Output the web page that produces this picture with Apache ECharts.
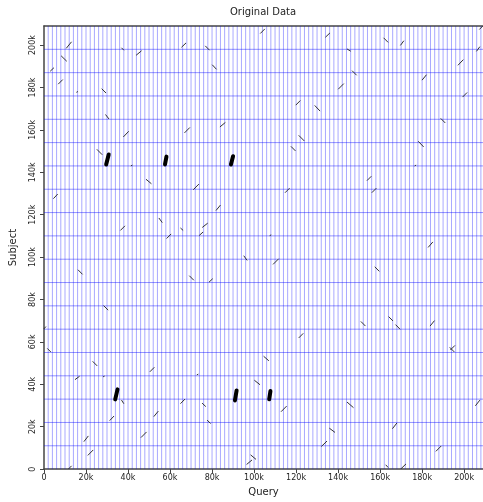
<!DOCTYPE html>
<html>
<head>
<meta charset="utf-8">
<script src="https://cdn.jsdelivr.net/npm/echarts@6/dist/echarts.min.js"></script>
<style>
  html, body { margin: 0; padding: 0; background: #ffffff; }
  #chart { width: 483px; height: 502px; }
</style>
</head>
<body>
<div id="chart"></div>
<script>
// Dot plot of query vs subject alignments (coordinates in kb).
const queryLength = 209;
const subjectLength = 209;
const axisLabelStep = 20;

// Block boundaries along each sequence (kb)
const queryBoundaries = [
  2, 4, 6, 8, 10, 12, 14, 16, 18, 20, 22, 24, 26, 28, 30, 32, 34, 36, 38, 40,
  42, 44, 46, 48, 50, 52, 54, 56, 58, 60, 62, 64, 66, 68, 70, 72, 74, 76, 78, 80,
  82, 84, 86, 88, 90, 92, 94, 96, 98, 100, 102, 104, 106, 108, 110, 112, 114, 116, 118, 120,
  122, 124, 126, 128, 130, 132, 134, 136, 138, 140, 142, 144, 146, 148, 150, 152, 154, 156, 158, 160,
  162, 164, 166, 168, 170, 172, 174, 176, 178, 180, 182, 184, 186, 188, 190, 192, 194, 196, 198, 200,
  202, 204, 206, 208
];
const subjectBoundaries = [
  11, 22, 33, 44, 55, 66, 77, 88, 99, 110, 121, 132, 143, 154, 165, 176, 187, 198
];

// Alignments: [queryStart, queryEnd, subjectStart, subjectEnd]
const forwardHits = [
  [10.7, 13.0, 198.6, 201.4], [103.1, 105.0, 205.6, 207.5], [134.1, 136.0, 203.8, 205.6],
  [207.4, 208.8, 207.5, 208.9], [44.0, 46.3, 195.3, 197.2], [65.6, 67.5, 199.1, 200.9],
  [169.8, 171.2, 200.0, 201.9], [206.0, 207.4, 197.2, 199.1], [3.1, 4.6, 187.8, 189.2],
  [6.9, 8.8, 181.7, 183.6], [197.2, 199.5, 190.6, 193.0], [180.1, 182.0, 183.6, 185.9],
  [140.2, 142.6, 179.3, 181.7], [199.4, 201.3, 175.6, 177.5], [37.9, 40.2, 156.8, 159.2],
  [67.0, 69.3, 158.7, 161.0], [83.9, 86.2, 161.5, 163.4], [71.2, 73.6, 131.9, 134.3],
  [114.9, 116.8, 130.5, 132.4], [82.0, 83.9, 122.1, 124.4], [75.5, 77.8, 114.1, 115.9],
  [74.0, 75.6, 110.3, 111.7], [65.1, 67.0, 31.0, 32.9], [113.0, 115.4, 27.2, 29.6],
  [52.4, 54.3, 24.9, 27.2], [96.6, 98.9, 2.3, 4.2], [14.9, 16.8, 42.3, 43.7],
  [31.4, 33.2, 23.0, 24.9], [19.1, 21.0, 13.1, 15.5], [46.3, 48.7, 15.0, 17.4],
  [21.0, 23.3, 6.6, 8.9], [11.6, 13.0, 0.0, 1.4], [132.2, 134.6, 10.8, 13.1],
  [166.0, 167.9, 19.2, 21.6], [186.7, 189.0, 8.5, 10.8], [169.8, 172.2, 0.0, 2.3],
  [205.5, 207.4, 30.0, 32.4], [4.6, 6.4, 127.7, 129.6], [36.5, 38.4, 112.7, 114.6],
  [50.5, 52.4, 46.0, 47.9], [58.5, 60.4, 108.9, 110.8], [78.7, 80.2, 88.3, 89.7],
  [109.2, 111.6, 96.7, 99.1], [120.0, 121.9, 171.8, 173.7], [153.9, 155.7, 136.2, 138.0],
  [156.2, 158.1, 130.5, 132.4], [183.0, 185.0, 104.7, 107.0], [183.9, 185.8, 67.6, 69.9],
  [193.6, 195.5, 56.3, 58.2], [121.4, 123.3, 62.0, 63.9], [0.0, 0.8, 66.2, 67.1]
];
const reverseHits = [
  [37.0, 37.9, 198.6, 197.7], [76.9, 78.7, 199.5, 197.7], [161.8, 163.7, 203.3, 201.4],
  [144.4, 145.9, 198.1, 197.2], [8.3, 10.7, 194.8, 192.5], [27.6, 29.4, 179.3, 177.5],
  [80.2, 82.0, 190.6, 188.7], [146.8, 148.7, 187.8, 185.9], [29.4, 30.8, 167.1, 165.3],
  [189.0, 190.9, 165.3, 163.4], [178.3, 180.6, 154.5, 152.1], [25.3, 27.6, 150.7, 148.4],
  [121.4, 123.8, 157.3, 154.9], [117.7, 119.6, 152.1, 150.2], [65.1, 66.1, 113.6, 112.7],
  [104.7, 106.9, 53.1, 51.2], [100.3, 102.7, 41.8, 39.9], [75.4, 76.9, 31.0, 29.6],
  [77.8, 79.2, 23.0, 21.6], [98.5, 100.8, 6.6, 4.7], [37.0, 37.9, 32.4, 31.0],
  [144.4, 147.2, 31.5, 29.1], [136.0, 138.4, 19.2, 17.4], [162.8, 163.7, 1.9, 0.9],
  [48.7, 51.0, 136.6, 134.7], [16.3, 18.2, 93.9, 92.0], [28.5, 30.4, 77.0, 75.1],
  [1.7, 3.1, 56.8, 55.4], [23.3, 25.2, 50.7, 48.8], [54.8, 56.2, 118.3, 116.4],
  [69.3, 71.2, 91.1, 89.2], [95.2, 96.6, 100.5, 98.6], [129.0, 131.3, 171.4, 169.0],
  [157.6, 159.5, 95.3, 93.4], [151.0, 152.9, 69.5, 67.6], [164.2, 166.0, 71.8, 70.0],
  [167.5, 169.4, 68.0, 66.1], [193.3, 195.2, 57.3, 55.4]
];
const pointHits = [
  [15.6, 16.0, 177.8, 178.0], [107.6, 108.0, 110.2, 110.4], [72.9, 73.3, 44.5, 44.7],
  [28.3, 28.7, 43.6, 43.8], [176.6, 177.0, 143.1, 143.3], [41.5, 41.9, 143.1, 143.3]
];
// Dense clusters of overlapping alignments
const clusterHits = [
  [29.6, 30.8, 143.7, 148.4], [57.6, 58.3, 143.7, 147.4], [89.0, 90.0, 143.7, 147.6],
  [90.9, 91.7, 32.4, 37.1], [107.2, 107.8, 32.9, 36.8], [33.9, 35.0, 32.9, 37.6]
];

const fontFamily = 'DejaVu Sans, Verdana, sans-serif';
const kLabel = v => (v === 0 ? '0' : v + 'k');
const queryGridColor = 'rgba(0, 0, 255, 0.34)';
const subjectGridColor = 'rgba(0, 0, 255, 0.42)';

function segmentSeries(name, data, color, width) {
  return {
    name: name,
    type: 'custom',
    xAxisIndex: 0,
    yAxisIndex: 0,
    clip: true,
    data: data,
    encode: { x: [0, 1], y: [2, 3] },
    renderItem: function (params, api) {
      const p1 = api.coord([api.value(0), api.value(2)]);
      const p2 = api.coord([api.value(1), api.value(3)]);
      return {
        type: 'line',
        shape: { x1: p1[0], y1: p1[1], x2: p2[0], y2: p2[1] },
        style: { stroke: color, lineWidth: width, lineCap: 'round' }
      };
    }
  };
}

// Block boundary lines, drawn at their exact positions (no pixel snapping)
function boundarySeries(name, positions, vertical, color) {
  return {
    name: name,
    type: 'custom',
    xAxisIndex: 0,
    yAxisIndex: 0,
    silent: true,
    z: 1,
    data: positions.map(p => (vertical ? [p, 0] : [0, p])),
    renderItem: function (params, api) {
      let p1, p2;
      if (vertical) {
        const x = api.value(0);
        p1 = api.coord([x, 0]);
        p2 = api.coord([x, subjectLength]);
      } else {
        const y = api.value(1);
        p1 = api.coord([0, y]);
        p2 = api.coord([queryLength, y]);
      }
      return {
        type: 'line',
        shape: { x1: p1[0], y1: p1[1], x2: p2[0], y2: p2[1] },
        style: { stroke: color, lineWidth: 1 }
      };
    }
  };
}

const chart = echarts.init(document.getElementById('chart'));
chart.setOption({
  animation: false,
  backgroundColor: '#ffffff',
  title: {
    text: 'Original Data',
    left: 258,
    textAlign: 'center',
    top: 2,
    textStyle: { fontFamily: fontFamily, fontSize: 10, fontWeight: 'normal', color: '#222' }
  },
  grid: { left: 38, right: 0, top: 26, bottom: 29, containLabel: false },
  xAxis: [
    {
      type: 'value', min: 0, max: queryLength, interval: axisLabelStep,
      position: 'bottom',
      name: 'Query', nameLocation: 'middle', nameGap: 17,
      nameTextStyle: { fontFamily: fontFamily, fontSize: 10, color: '#222' },
      axisLine: { show: true, onZero: false, lineStyle: { color: '#444', width: 1.5 } },
      axisTick: { show: true, length: 4, lineStyle: { color: '#444' } },
      axisLabel: { fontFamily: fontFamily, fontSize: 8, color: '#222', margin: 5, formatter: kLabel, showMaxLabel: false },
      splitLine: { show: false }
    },
    {
      type: 'value', min: 0, max: queryLength,
      position: 'top',
      axisLine: { show: true, onZero: false, lineStyle: { color: '#444', width: 1.5 } },
      axisTick: { show: false }, axisLabel: { show: false },
      splitLine: { show: false }
    }
  ],
  yAxis: [
    {
      type: 'value', min: 0, max: subjectLength, interval: axisLabelStep,
      position: 'left',
      name: 'Subject', nameLocation: 'middle', nameGap: 26,
      nameTextStyle: { fontFamily: fontFamily, fontSize: 10, color: '#222' },
      axisLine: { show: true, onZero: false, lineStyle: { color: '#444', width: 1.5 } },
      axisTick: { show: true, length: 4, lineStyle: { color: '#444' } },
      axisLabel: { fontFamily: fontFamily, fontSize: 8, color: '#222', margin: 7, rotate: 90, formatter: kLabel, showMaxLabel: false },
      splitLine: { show: false }
    }
  ],
  series: [
    boundarySeries('query blocks', queryBoundaries, true, queryGridColor),
    boundarySeries('subject blocks', subjectBoundaries, false, subjectGridColor),
    segmentSeries('forward', forwardHits, '#333', 1),
    segmentSeries('reverse', reverseHits, '#333', 1),
    segmentSeries('point', pointHits, '#333', 1),
    segmentSeries('cluster', clusterHits, '#000', 4)
  ]
});
</script>
</body>
</html>
